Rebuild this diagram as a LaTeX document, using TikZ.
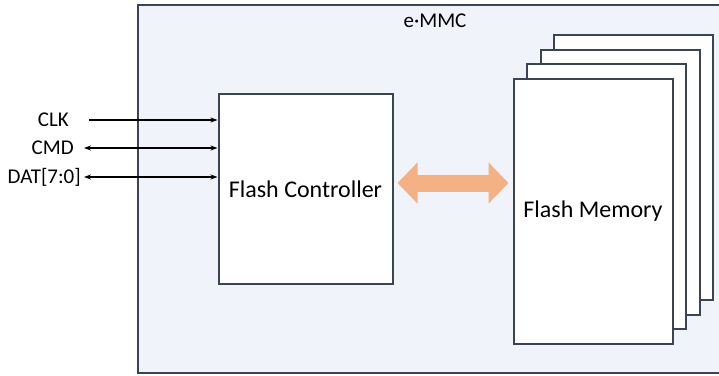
\documentclass[tikz,border=0pt]{standalone}
\usepackage{fontspec}
\setmainfont{Carlito}
\usetikzlibrary{arrows.meta}
\definecolor{edge}{HTML}{3B4454}
\definecolor{bgfill}{HTML}{F0F3FA}
\definecolor{orangefill}{HTML}{F4B183}
\tikzset{
  box/.style={draw=edge, line width=2pt, fill=white, inner sep=0pt},
  sig/.style={line width=1.1pt, draw=black},
  lbl/.style={font=\fontsize{21}{24}\selectfont, inner sep=0pt, anchor=east},
  bigtxt/.style={font=\fontsize{24}{28}\selectfont},
}
\begin{document}
\begin{tikzpicture}[x=1pt,y=-1pt]
\useasboundingbox (0,0) rectangle (719,375);
\clip (0,0) rectangle (719,375);
% outer e-MMC box
\draw[draw=edge, line width=2pt, fill=bgfill] (137.5,5) rectangle (740,372.5);
\node[font=\fontsize{21}{24}\selectfont, inner sep=0pt] (emmc) at (435,21) {e·MMC};
% flash memory stack
\node[box, minimum width=159pt, minimum height=265pt] (m4) at (633.5,167.5) {};
\node[box, minimum width=159pt, minimum height=265pt] (m3) at (620,182) {};
\node[box, minimum width=159pt, minimum height=265pt] (m2) at (606.5,196.5) {};
\node[box, bigtxt, minimum width=159pt, minimum height=265pt] (mem) at (593,211.5) {Flash Memory};
% controller
\node[box, bigtxt, minimum width=174pt, minimum height=189.5pt] (ctrl) at (305.5,189) {Flash Controller};
% bus arrow
\draw[orangefill, line width=17pt, shorten <=4pt, shorten >=4pt,
  {Triangle[length=20pt,width=40pt]}-{Triangle[length=20pt,width=40pt]}]
  (ctrl.east |- 0,183) -- (mem.west |- 0,183);
% signals
\node[lbl] (clk) at (69,120) {CLK};
\node[lbl] (cmd) at (74,148) {CMD};
\node[lbl] (dat) at (81,177) {DAT[7:0]};
\coordinate (clkS) at (89,120);
\coordinate (cmdS) at (84,148);
\coordinate (datS) at (84,177);
\draw[sig, -{Stealth[length=7pt,width=5pt]}] (clkS) -- (clkS -| ctrl.west);
\draw[sig, {Stealth[length=7pt,width=5pt]}-{Stealth[length=7pt,width=5pt]}] (cmdS) -- (cmdS -| ctrl.west);
\draw[sig, {Stealth[length=7pt,width=5pt]}-{Stealth[length=7pt,width=5pt]}] (datS) -- (datS -| ctrl.west);
\end{tikzpicture}
\end{document}
